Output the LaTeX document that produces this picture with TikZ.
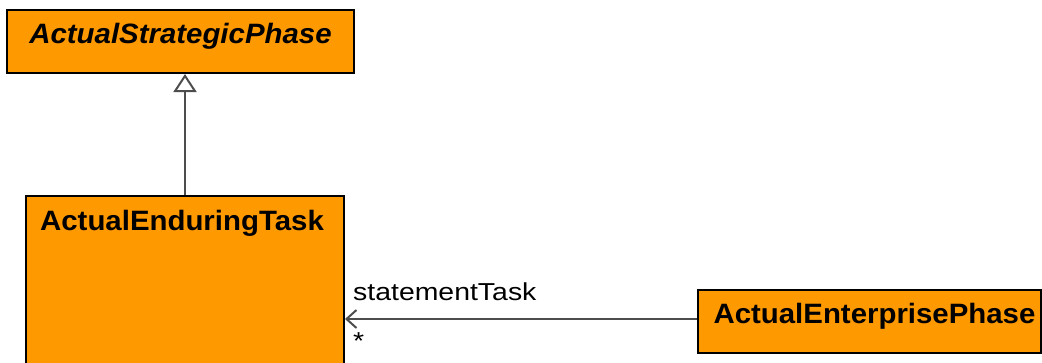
\documentclass[tikz,border=0pt]{standalone}
\usepackage{fontspec}
\setmainfont{Liberation Sans}
\newfontfamily\namefont[FakeStretch=1.05]{Liberation Sans}
\newfontfamily\rolefont[FakeStretch=1.16]{Liberation Sans}
\usetikzlibrary{positioning, arrows.meta}
\definecolor{classorange}{RGB}{255,153,0}
\definecolor{linkgray}{RGB}{77,77,77}

\begin{document}
\begin{tikzpicture}[x=1pt, y=-1pt,
    classbox/.style={rectangle, draw=black, fill=classorange, line width=2pt,
                     anchor=north west, inner sep=0pt},
    classname/.style={anchor=base, inner sep=0pt,
                      font=\namefont\fontsize{28}{33}\selectfont\bfseries},
    rolename/.style={anchor=base west, inner sep=0pt,
                     font=\rolefont\fontsize{24.5}{29}\selectfont},
    link/.style={draw=linkgray, line width=2.2pt}]
  \useasboundingbox (0,0) rectangle (1042,362);
  % classes
  \node[classbox, minimum width=347pt, minimum height=63pt] (asp) at (6,9) {};
  \node[classname, font=\namefont\fontsize{28}{33}\selectfont\bfseries\itshape]
    (asp-name) at ([yshift=-34pt]asp.north) {ActualStrategicPhase};
  \node[classbox, minimum width=318pt, minimum height=200pt] (aet) at (25,195) {};
  \node[classname] (aet-name) at ([xshift=-3pt, yshift=-35pt]aet.north) {ActualEnduringTask};
  \node[classbox, minimum width=343pt, minimum height=63pt] (aep) at (697,289) {};
  \node[classname] (aep-name) at ([xshift=5pt, yshift=-34pt]aep.north) {ActualEnterprisePhase};
  % generalisation
  \draw[link, -{Triangle[open, length=18pt, width=23pt, fill=white, line width=2pt]}]
    (aet.north) -- (aet.north |- asp.south);
  % association
  \coordinate (tip) at ([yshift=2.5pt]aep.west -| aet.east);
  \draw[link, -{Straight Barb[length=10pt, width=18pt, line width=2pt]}]
    ([yshift=2.5pt]aep.west) -- (tip);
  \node[rolename] (role) at ([xshift=8pt, yshift=19pt]tip) {statementTask};
  \node[rolename] (mult) at ([xshift=8pt, yshift=-30pt]tip) {*};
\end{tikzpicture}
\end{document}
